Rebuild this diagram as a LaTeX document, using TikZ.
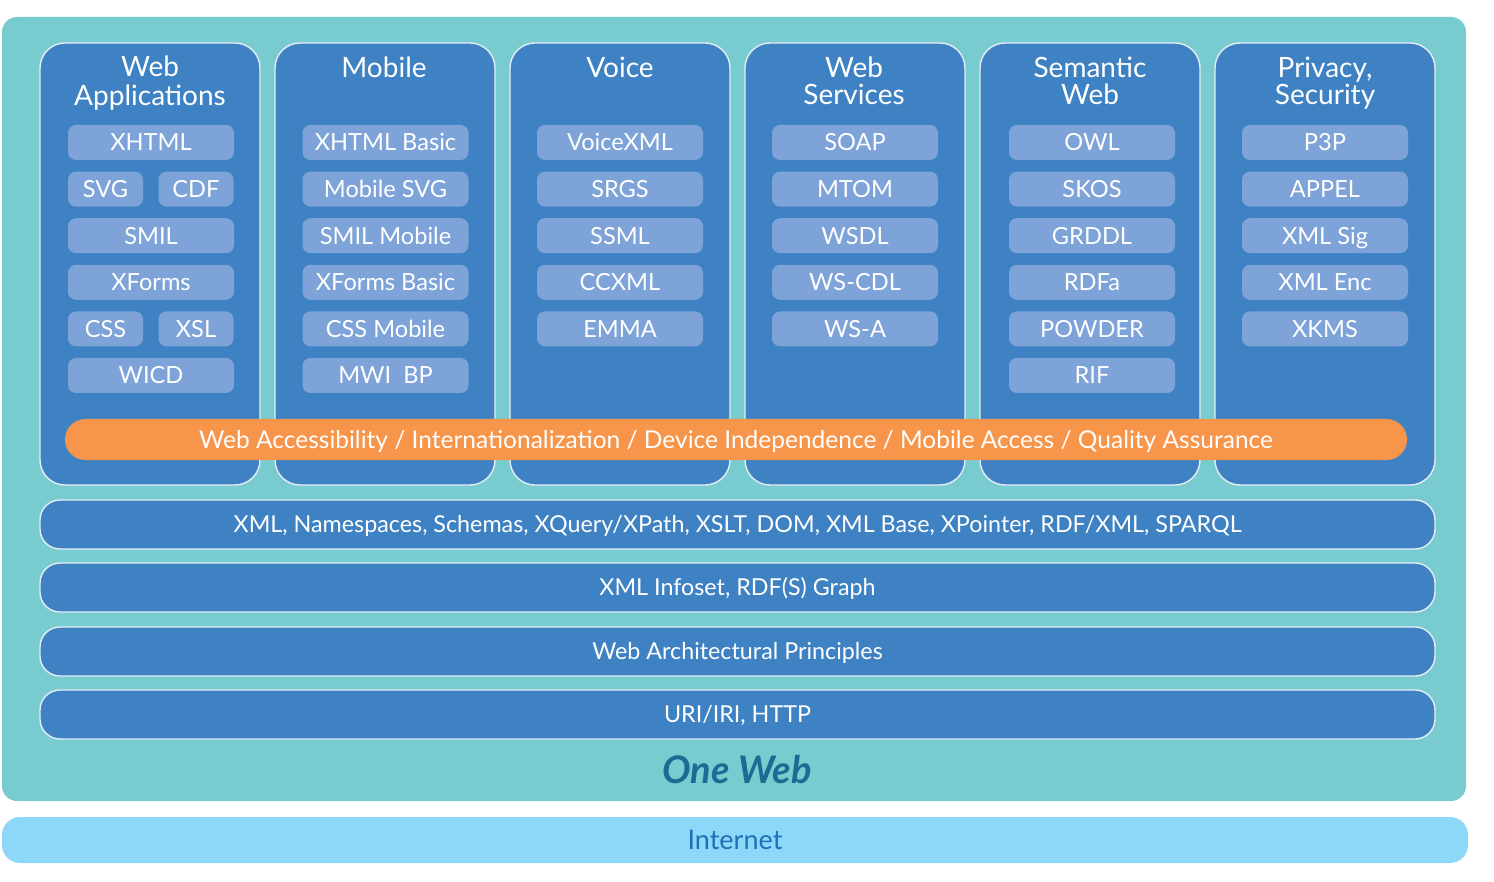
\documentclass[tikz,border=0pt]{standalone}
\usepackage{fontspec}
\setmainfont{Lato}
\definecolor{teal1}{HTML}{78CCCF}
\definecolor{colblue}{HTML}{3E82C4}
\definecolor{techblue}{HTML}{7DA3D8}
\definecolor{orange1}{HTML}{F7964A}
\definecolor{netblue}{HTML}{8DD8F8}
\definecolor{oneweb}{HTML}{1D6A94}
\definecolor{nettext}{HTML}{1F70B8}
\definecolor{edge1}{HTML}{E4ECF6}
\tikzset{
  colbox/.style={draw=edge1, line width=1.4pt, fill=colblue, rounded corners=25pt,
    minimum width=220pt, minimum height=442pt, inner sep=0pt},
  coltitle/.style={text=white, font=\fontsize{28}{29}\selectfont, align=center, anchor=north, inner sep=0pt},
  techbox/.style={fill=techblue, rounded corners=8pt, minimum width=166pt, minimum height=35pt,
    inner sep=0pt, text=white, font=\fontsize{23.6}{24}\selectfont, text height=17pt, text depth=0pt},
  halfbox/.style={techbox, minimum width=75pt},
  layerbar/.style={draw=edge1, line width=1.4pt, fill=colblue, rounded corners=20pt,
    minimum width=1395pt, minimum height=49pt, inner sep=0pt, text=white,
    font=\fontsize{23.3}{24}\selectfont, text height=16.7pt, text depth=0pt},
  accbar/.style={fill=orange1, rounded corners=20.5pt, minimum width=1342pt, minimum height=41pt,
    inner sep=0pt, text=white, font=\fontsize{24.5}{25}\selectfont, text height=17.6pt, text depth=0pt}
}
\begin{document}
\begin{tikzpicture}[x=1pt,y=-1pt]
\useasboundingbox (0,0) rectangle (1494,882);
% background
\node[fill=teal1, rounded corners=15pt, minimum width=1464pt, minimum height=784pt, inner sep=0pt] (oneweb) at (734,409) {};
\node[fill=netblue, rounded corners=18pt, minimum width=1466pt, minimum height=46pt, inner sep=0pt,
  text=nettext, font=\fontsize{27}{28}\selectfont, text height=19.4pt, text depth=0pt] (internet) at (735,840) {Internet};
% columns
\node[colbox] (c1) at (150,264) {};
\node[colbox] (c2) at (385,264) {};
\node[colbox] (c3) at (620,264) {};
\node[colbox] (c4) at (855,264) {};
\node[colbox] (c5) at (1090,264) {};
\node[colbox] (c6) at (1325,264) {};
\node[coltitle] (t1) at (150,56) {Web\\[0pt]Applications};
\node[coltitle] (t2) at (384,57) {Mobile};
\node[coltitle] (t3) at (620,57) {Voice};
\node[coltitle] (t4) at (854,57) {Web\\[-2pt]Services};
\node[coltitle] (t5) at (1090,57) {Semantic\\[-2pt]Web};
\node[coltitle] (t6) at (1325,57) {Privacy,\\[-2pt]Security};
% Web applications
\node[techbox] (wa0) at (151,142.5) {XHTML};
\node[halfbox] (wa1a) at (105.5,189.1) {SVG};
\node[halfbox] (wa1b) at (196,189.1) {CDF};
\node[techbox] (wa2) at (151,235.7) {SMIL};
\node[techbox] (wa3) at (151,282.3) {XForms};
\node[halfbox] (wa4a) at (105.5,328.9) {CSS};
\node[halfbox] (wa4b) at (196,328.9) {XSL};
\node[techbox] (wa5) at (151,375.5) {WICD};
% Mobile
\foreach \t [count=\k from 0] in {XHTML Basic, Mobile SVG, SMIL Mobile, XForms Basic, CSS Mobile, MWI\ \ BP}
  \node[techbox] (mo\k) at (385.5,{142.5+46.6*\k}) {\t};
% Voice
\foreach \t [count=\k from 0] in {VoiceXML, SRGS, SSML, CCXML, EMMA}
  \node[techbox] (vo\k) at (620,{142.5+46.6*\k}) {\t};
% Web services
\foreach \t [count=\k from 0] in {SOAP, MTOM, WSDL, WS-CDL, WS-A}
  \node[techbox] (ws\k) at (855,{142.5+46.6*\k}) {\t};
% Semantic web
\foreach \t [count=\k from 0] in {OWL, SKOS, GRDDL, RDFa, POWDER, RIF}
  \node[techbox] (sw\k) at (1092,{142.5+46.6*\k}) {\t};
% Privacy
\foreach \t [count=\k from 0] in {P3P, APPEL, XML Sig, XML Enc, XKMS}
  \node[techbox] (ps\k) at (1325,{142.5+46.6*\k}) {\t};
% accessibility bar
\node[accbar] (acc) at (736,439.5) {Web Accessibility / Internationalization / Device Independence / Mobile Access / Quality Assurance};
% layers
\node[layerbar] (l1) at (737.5,524.5) {XML, Namespaces, Schemas, XQuery/XPath, XSLT, DOM, XML Base, XPointer, RDF/XML, SPARQL};
\node[layerbar] (l2) at (737.5,587.5) {XML Infoset, RDF(S) Graph};
\node[layerbar] (l3) at (737.5,651.5) {Web Architectural Principles};
\node[layerbar] (l4) at (737.5,714.5) {URI/IRI, HTTP};
\node[text=oneweb, font=\fontsize{38}{39}\selectfont\bfseries\itshape, inner sep=0pt] (owt) at (737,770) {One Web};
\end{tikzpicture}
\end{document}
